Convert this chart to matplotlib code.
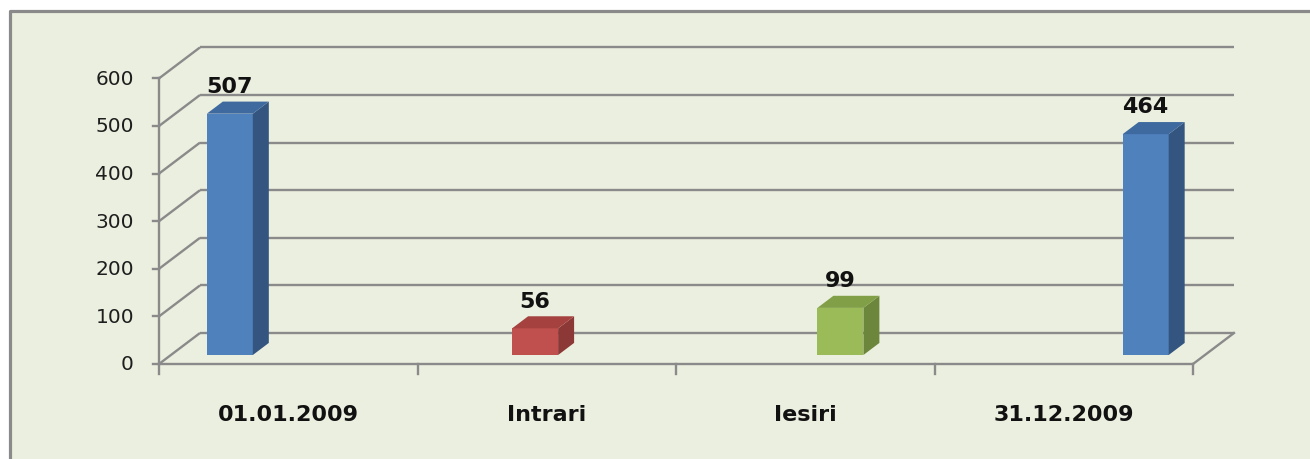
import matplotlib
matplotlib.use("Agg")
import matplotlib.pyplot as plt
from matplotlib.patches import Polygon, Rectangle
from matplotlib.lines import Line2D

# ---- data ----
categories = ["01.01.2009", "Intrari", "Iesiri", "31.12.2009"]
values = [507, 56, 99, 464]
yticks = [0, 100, 200, 300, 400, 500, 600]
tick_labels = ["0", "100", "200", "300", "400", "500", "600"]

# ---- styles ----
front_cols = ["#4F81BD", "#C0504D", "#9BBB59", "#4F81BD"]
side_cols = ["#34557F", "#8C3836", "#6C873B", "#34557F"]
top_cols = ["#3F6A9F", "#A5423F", "#809F46", "#3F6A9F"]
bg = "#EBEFDF"
grid_col = "#8A8A8A"

W_PX, H_PX, DPI = 1310, 460, 100
fig = plt.figure(figsize=(W_PX / DPI, H_PX / DPI), dpi=DPI, facecolor="white")

# outer frame (left and top edges visible only)
fx0, fy1 = 10 / W_PX, (H_PX - 11.5) / H_PX
fig.patches.append(Rectangle((fx0, -0.05), 1.1, fy1 + 0.05, transform=fig.transFigure,
                             facecolor=bg, edgecolor="none", zorder=-2))
fig.lines.append(Line2D([fx0, fx0, 1.1], [-0.05, fy1, fy1], transform=fig.transFigure,
                        color="#8A8A8A", lw=2.3, zorder=-1))

ax = fig.add_axes([0, 0, 1, 1])
ax.set_facecolor("none")
ax.axis("off")
ax.set_zorder(1)

# scale: pixels per category unit and per value unit
UX = 258.5
UY = 0.476
X_ORIGIN, Y_ORIGIN = 159, 365  # pixel position of (0,0)
ax.set_xlim(-X_ORIGIN / UX, (W_PX - X_ORIGIN) / UX)
ax.set_ylim(-(H_PX - Y_ORIGIN) / UY, Y_ORIGIN / UY)

DX, DY = 41 / UX, 31 / UY  # depth of the floor
n = len(categories)
lw = 1.7

# side wall diagonals and back wall grid lines
for v, lab in zip(yticks, tick_labels):
    ax.plot([0, DX], [v, v + DY], color=grid_col, lw=lw, zorder=1, solid_capstyle="butt")
    ax.plot([DX, n + DX], [v + DY, v + DY], color=grid_col, lw=lw, zorder=1, solid_capstyle="butt")
    ax.plot([-6 / UX, 0], [v, v], color=grid_col, lw=lw, zorder=1)
    ax.text(-25 / UX, v, lab, ha="right", va="center",
            fontsize=14.5, color="#1E1E1E")

# axes lines
ax.plot([0, 0], [0, yticks[-1]], color=grid_col, lw=lw, zorder=1)
ax.plot([0, n], [0, 0], color=grid_col, lw=lw, zorder=1)
ax.plot([n, n + DX], [0, DY], color=grid_col, lw=lw, zorder=1)
for k in range(n + 1):
    ax.plot([k, k], [0, -10 / UY], color=grid_col, lw=lw, zorder=1)

# category labels
for i, c in enumerate(categories):
    ax.text(i + 0.5, -50 / UY, c, ha="center", va="center", fontsize=16,
            fontweight="bold", color="#111111")

# bars
F0, FD = 0.29, 0.39          # depth fraction of bar front and bar depth
BAR_X0, BAR_STEP, BAR_W = 0.139, 1.181, 46 / UX
for i, v in enumerate(values):
    bx = BAR_X0 + i * BAR_STEP + F0 * DX
    by = F0 * DY
    ddx, ddy = FD * DX, FD * DY
    ax.add_patch(Rectangle((bx, by), BAR_W, v, facecolor=front_cols[i],
                           edgecolor="none", zorder=3))
    ax.add_patch(Polygon([(bx + BAR_W, by), (bx + BAR_W + ddx, by + ddy),
                          (bx + BAR_W + ddx, by + ddy + v), (bx + BAR_W, by + v)],
                         closed=True, facecolor=side_cols[i], edgecolor="none", zorder=3))
    ax.add_patch(Polygon([(bx, by + v), (bx + BAR_W, by + v),
                          (bx + BAR_W + ddx, by + v + ddy), (bx + ddx, by + v + ddy)],
                         closed=True, facecolor=top_cols[i], edgecolor="none", zorder=3))
    ax.annotate(str(v), (bx + BAR_W / 2, by + v + ddy), xytext=(0, 7),
                textcoords="offset points", ha="center", va="baseline",
                fontsize=16, fontweight="bold", color="#111111", zorder=4)

fig.savefig("out.png", dpi=DPI, facecolor="white")
